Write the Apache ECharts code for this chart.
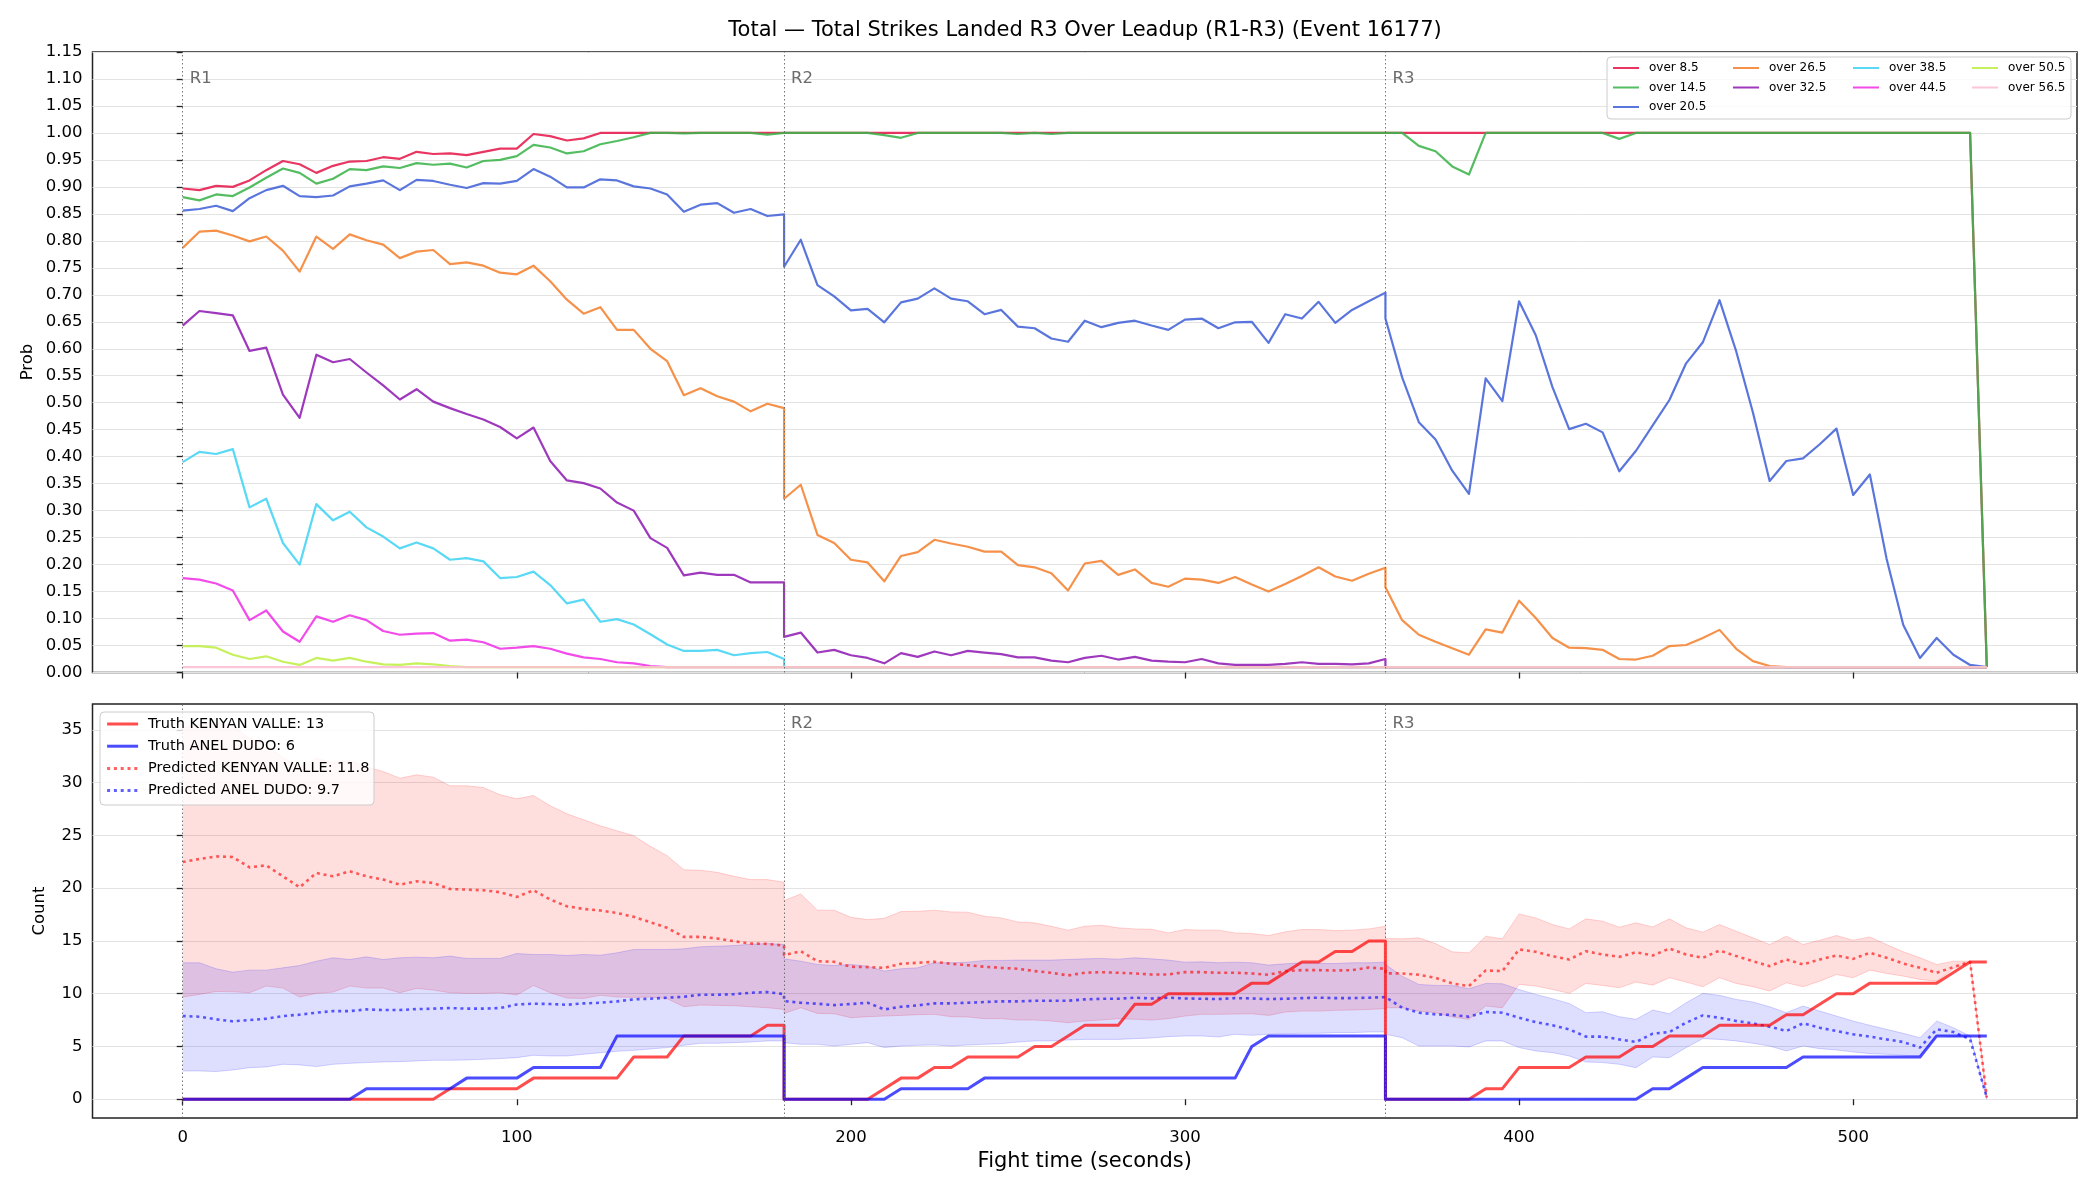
<!DOCTYPE html>
<html>
<head>
<meta charset="utf-8">
<title>Total Strikes Landed R3 Over Leadup</title>
<script src="https://cdn.jsdelivr.net/npm/echarts@6/dist/echarts.min.js"></script>
<style>
  html, body { margin: 0; padding: 0; background: #fff; }
  #chart { width: 2100px; height: 1200px; }
</style>
</head>
<body>
<div id="chart"></div>
<script>
// fight time in seconds, one sample every 5 s (round boundaries appear twice)
const timeR1 = [0,5,10,15,20,25,30,35,40,45,50,55,60,65,70,75,80,85,90,95,100,105,110,115,120,125,130,135,140,145,150,155,160,165,170,175,180];
const timeR2 = [180,185,190,195,200,205,210,215,220,225,230,235,240,245,250,255,260,265,270,275,280,285,290,295,300,305,310,315,320,325,330,335,340,345,350,355,360];
const timeR3 = [360,365,370,375,380,385,390,395,400,405,410,415,420,425,430,435,440,445,450,455,460,465,470,475,480,485,490,495,500,505,510,515,520,525,530,535,540];
const fightTime = timeR1.concat(timeR2, timeR3);

const roundStarts = [0, 180, 360];
const roundNames = ['R1', 'R2', 'R3'];
const xTicks = [0, 100, 200, 300, 400, 500];
const countTicks = [0, 5, 10, 15, 20, 25, 30, 35];

// a full round sitting on 1.0 or on the 0.01 floor
const ones37 = [1,1,1,1,1,1,1,1,1,1, 1,1,1,1,1,1,1,1,1,1, 1,1,1,1,1,1,1,1,1,1, 1,1,1,1,1,1,1];
const floor37 = [0.01,0.01,0.01,0.01,0.01,0.01,0.01,0.01,0.01,0.01, 0.01,0.01,0.01,0.01,0.01,0.01,0.01,0.01,0.01,0.01,
                 0.01,0.01,0.01,0.01,0.01,0.01,0.01,0.01,0.01,0.01, 0.01,0.01,0.01,0.01,0.01,0.01,0.01];

// ---- top panel: probability of going over each line ----
const over8_5 = [
  0.897,0.894,0.902,0.900,0.912,0.931,0.948,0.942,0.926,0.939, 0.947,0.948,0.955,0.952,0.965,0.961,0.962,0.959,0.965,0.971,
  0.971,0.998,0.994,0.986,0.990,1,1,1,1,1, 1,1,1,1,1,1,1,
  ...ones37,
  1,1,1,1,1,1,1,1,1,1, 1,1,1,1,1,1,1,1,1,1, 1,1,1,1,1,1,1,1,1,1, 1,1,1,1,1,1,0.01
];
const over14_5 = [
  0.881,0.875,0.886,0.883,0.899,0.917,0.934,0.926,0.906,0.915, 0.933,0.931,0.938,0.935,0.944,0.941,0.943,0.936,0.948,0.950,
  0.957,0.978,0.973,0.962,0.966,0.979,0.985,0.992,1,1, 0.999,1,1,1,1,0.997,1,
  1,1,1,1,1,1,0.996,0.991,1,1, 1,1,1,1,0.998,1,0.998,1,1,1, 1,1,1,1,1,1,1,1,1,1, 1,1,1,1,1,1,1,
  1,1,0.976,0.966,0.938,0.923,1,1,1,1, 1,1,1,1,0.989,1,1,1,1,1, 1,1,1,1,1,1,1,1,1,1, 1,1,1,1,1,1,0.01
];
const over20_5 = [
  0.856,0.859,0.865,0.855,0.879,0.894,0.902,0.883,0.881,0.884, 0.901,0.906,0.912,0.894,0.913,0.911,0.904,0.898,0.907,0.906,
  0.911,0.933,0.919,0.899,0.899,0.914,0.912,0.901,0.897,0.886, 0.854,0.867,0.870,0.852,0.859,0.846,0.849,
  0.752,0.802,0.718,0.697,0.671,0.674,0.649,0.686,0.693,0.712, 0.693,0.688,0.664,0.672,0.641,0.638,0.619,0.613,0.652,0.640,
  0.648,0.652,0.643,0.635,0.654,0.656,0.638,0.649,0.650,0.611, 0.664,0.656,0.687,0.648,0.672,0.688,0.704,
  0.656,0.547,0.464,0.432,0.374,0.331,0.545,0.503,0.688,0.625, 0.529,0.451,0.461,0.445,0.373,0.411,0.458,0.505,0.573,0.612,
  0.690,0.595,0.482,0.355,0.392,0.397,0.423,0.452,0.329,0.367, 0.211,0.088,0.027,0.064,0.033,0.014,0.01
];
const over26_5 = [
  0.787,0.817,0.819,0.810,0.799,0.808,0.782,0.743,0.808,0.785, 0.812,0.801,0.793,0.768,0.780,0.783,0.757,0.760,0.754,0.741,
  0.738,0.754,0.725,0.691,0.665,0.677,0.635,0.635,0.600,0.577, 0.514,0.527,0.512,0.502,0.484,0.498,0.490,
  0.322,0.348,0.255,0.240,0.209,0.204,0.169,0.216,0.223,0.246, 0.239,0.233,0.224,0.224,0.199,0.195,0.184,0.152,0.202,0.207,
  0.181,0.191,0.166,0.159,0.174,0.172,0.166,0.177,0.163,0.150, 0.164,0.179,0.195,0.178,0.170,0.183,0.194,
  0.158,0.097,0.070,0.057,0.045,0.033,0.080,0.074,0.133,0.101, 0.064,0.046,0.045,0.042,0.025,0.024,0.031,0.049,0.051,0.064,
  0.079,0.044,0.021,0.012,0.01,0.01,0.01,0.01,0.01,0.01, 0.01,0.01,0.01,0.01,0.01,0.01,0.01
];
const over32_5 = [
  0.643,0.670,0.666,0.662,0.596,0.602,0.515,0.472,0.589,0.575, 0.581,0.556,0.532,0.506,0.525,0.502,0.490,0.479,0.469,0.455,
  0.434,0.454,0.392,0.356,0.351,0.341,0.315,0.300,0.249,0.231, 0.180,0.185,0.181,0.181,0.167,0.167,0.167,
  0.066,0.074,0.037,0.042,0.032,0.027,0.017,0.036,0.029,0.039, 0.032,0.040,0.037,0.034,0.028,0.028,0.022,0.019,0.027,0.031,
  0.024,0.029,0.022,0.020,0.019,0.025,0.017,0.014,0.014,0.014, 0.016,0.019,0.016,0.016,0.015,0.017,0.025,
  ...floor37
];
const over38_5 = [
  0.390,0.409,0.405,0.414,0.306,0.322,0.240,0.200,0.312,0.282, 0.298,0.269,0.252,0.230,0.241,0.230,0.209,0.212,0.206,0.175,
  0.177,0.187,0.162,0.128,0.135,0.094,0.099,0.089,0.071,0.052, 0.040,0.040,0.042,0.032,0.036,0.038,0.025,
  ...floor37,
  ...floor37
];
const over44_5 = [
  0.175,0.172,0.165,0.152,0.097,0.115,0.076,0.057,0.104,0.094, 0.106,0.097,0.077,0.070,0.072,0.073,0.059,0.061,0.056,0.044,
  0.046,0.049,0.044,0.035,0.028,0.025,0.019,0.017,0.012,0.01, 0.01,0.01,0.01,0.01,0.01,0.01,0.01,
  ...floor37,
  ...floor37
];
const over50_5 = [
  0.049,0.049,0.046,0.033,0.025,0.030,0.020,0.014,0.027,0.022, 0.027,0.020,0.015,0.014,0.017,0.015,0.012,0.01,0.01,0.01,
  0.01,0.01,0.01,0.01,0.01,0.01,0.01,0.01,0.01,0.01, 0.01,0.01,0.01,0.01,0.01,0.01,0.01,
  ...floor37,
  ...floor37
];
const over56_5 = [...floor37, ...floor37, ...floor37];

const lineNames = ['over 8.5', 'over 14.5', 'over 20.5', 'over 26.5', 'over 32.5', 'over 38.5', 'over 44.5', 'over 50.5', 'over 56.5'];
const lineValues = [over8_5, over14_5, over20_5, over26_5, over32_5, over38_5, over44_5, over50_5, over56_5];
const lineColors = ['#e6194b', '#3cb44b', '#4363d8', '#f58231', '#911eb4', '#42d4f4', '#f032e6', '#bfef45', '#fabed4'];

// ---- bottom panel: counts ----
const truthKenyan = [
  0,0,0,0,0,0,0,0,0,0, 0,0,0,0,0,0,1,1,1,1, 1,2,2,2,2,2,2,4,4,4, 6,6,6,6,6,7,7,
  0,0,0,0,0,0,1,2,2,3, 3,4,4,4,4,5,5,6,7,7, 7,9,9,10,10,10,10,10,11,11, 12,13,13,14,14,15,15,
  0,0,0,0,0,0,1,1,3,3, 3,3,4,4,4,5,5,6,6,6, 7,7,7,7,8,8,9,10,10,11, 11,11,11,11,12,13,13
];
const truthDudo = [
  0,0,0,0,0,0,0,0,0,0, 0,1,1,1,1,1,1,2,2,2, 2,3,3,3,3,3,6,6,6,6, 6,6,6,6,6,6,6,
  0,0,0,0,0,0,0,1,1,1, 1,1,2,2,2,2,2,2,2,2, 2,2,2,2,2,2,2,2,5,6, 6,6,6,6,6,6,6,
  0,0,0,0,0,0,0,0,0,0, 0,0,0,0,0,0,1,1,2,3, 3,3,3,3,3,4,4,4,4,4, 4,4,4,6,6,6,6
];
const predKenyan = [
  22.48,22.76,23.01,22.95,21.97,22.16,21.12,20.08,21.44,21.12, 21.60,21.12,20.81,20.33,20.65,20.49,19.92,19.86,19.80,19.61,
  19.17,19.80,18.92,18.28,18.03,17.88,17.65,17.28,16.77,16.24, 15.38,15.38,15.23,14.97,14.75,14.72,14.56,
  13.65,14.03,13.08,13.02,12.55,12.52,12.45,12.83,12.93,13.02, 12.83,12.70,12.55,12.45,12.36,12.14,11.98,11.73,11.98,12.04,
  11.98,11.92,11.82,11.82,12.04,12.04,11.98,11.98,11.92,11.79, 12.14,12.23,12.23,12.20,12.23,12.48,12.36,
  11.92,11.92,11.79,11.51,10.97,10.72,12.20,12.14,14.19,13.97, 13.56,13.24,14.03,13.71,13.49,13.93,13.62,14.28,13.71,13.40,
  14.09,13.56,13.08,12.61,13.24,12.77,13.24,13.62,13.30,13.87, 13.40,12.86,12.45,11.98,12.52,13.02,0.16
];
const kenyanHigh = [
  35.20,35.50,35.67,35.40,34.20,33.60,32.40,31.40,32.30,31.90, 32.10,31.50,31.05,30.42,30.74,30.52,29.70,29.70,29.54,28.85,
  28.47,28.78,27.81,27.05,26.48,25.91,25.44,24.97,23.96,23.08, 21.75,21.69,21.50,21.12,20.81,20.81,20.56,
  18.82,19.45,17.91,17.91,17.24,17.02,17.15,17.78,17.81,17.91, 17.75,17.72,17.34,17.18,16.80,16.71,16.39,16.02,16.39,16.49,
  16.24,16.14,16.11,15.76,16.08,16.02,16.02,15.76,15.70,15.51, 15.86,16.08,16.08,15.98,16.02,16.14,16.39,
  15.23,15.20,15.29,14.75,13.97,13.87,15.45,15.20,17.56,17.18, 16.55,16.14,17.09,16.87,16.30,16.71,16.33,17.09,16.24,15.83,
  16.55,15.92,15.29,14.66,15.45,14.66,15.07,15.51,15.07,15.38, 14.66,13.97,13.40,12.77,13.08,13.08,0.32
];
const kenyanLow = [
  9.68,9.93,10.21,10.18,10.09,10.72,10.53,9.68,10.03,10.15, 10.72,10.53,10.53,10.09,10.50,10.34,10.09,10.03,10.03,10.09,
  9.87,10.78,10.09,9.58,9.55,9.84,9.68,9.65,9.68,9.52, 8.76,8.92,8.89,8.86,8.76,8.67,8.51,
  8.13,8.67,8.13,8.10,7.72,7.82,7.88,7.94,8.01,8.04, 7.82,7.79,7.63,7.63,7.50,7.50,7.41,7.25,7.41,7.50,
  7.63,7.57,7.50,7.63,7.88,8.04,8.04,8.07,8.10,7.94, 8.26,8.35,8.35,8.42,8.45,8.51,8.58,
  8.67,8.67,8.35,8.20,7.79,7.57,8.83,8.67,10.88,10.72, 10.40,10.03,10.97,10.78,10.56,11.10,10.81,11.51,11.10,10.66,
  11.51,10.97,10.66,10.25,11.03,10.66,11.19,11.82,11.51,12.23, 11.92,11.66,11.35,11.19,12.36,12.99,0
];
const predDudo = [
  7.88,7.82,7.57,7.38,7.50,7.63,7.88,8.01,8.20,8.35, 8.35,8.51,8.45,8.45,8.54,8.58,8.64,8.58,8.58,8.64,
  8.98,9.05,9.02,8.95,9.08,9.14,9.27,9.46,9.52,9.62, 9.71,9.90,9.90,9.96,10.09,10.15,9.96,
  9.30,9.14,9.05,8.92,9.02,9.14,8.51,8.76,8.89,9.08, 9.08,9.14,9.21,9.27,9.27,9.33,9.33,9.33,9.46,9.52,
  9.52,9.62,9.55,9.62,9.55,9.52,9.49,9.58,9.55,9.49, 9.52,9.58,9.62,9.58,9.58,9.62,9.68,
  9.68,8.67,8.20,8.04,7.98,7.82,8.26,8.20,7.72,7.31, 7.00,6.62,5.93,5.93,5.67,5.42,6.21,6.37,7.25,7.94,
  7.72,7.41,7.19,6.87,6.46,7.19,6.78,6.46,6.15,5.93, 5.67,5.42,4.89,6.62,6.37,5.67,0.16
];
const dudoHigh = [
  12.93,12.93,12.36,12.04,12.23,12.23,12.45,12.67,13.08,13.40, 13.24,13.49,13.24,13.40,13.46,13.40,13.56,13.34,13.34,13.34,
  13.81,13.71,13.71,13.62,13.71,13.65,13.87,14.19,14.19,14.19, 14.25,14.44,14.50,14.56,14.69,14.75,14.66,
  13.30,13.08,12.77,12.67,12.77,12.61,12.14,12.36,12.45,12.93, 12.93,12.99,13.15,13.15,13.18,13.18,13.18,13.24,13.30,13.34,
  13.27,13.40,13.30,13.18,12.99,13.02,12.93,12.99,12.93,12.71, 12.83,12.93,12.86,12.86,12.93,12.93,12.99,
  12.77,11.66,10.88,10.78,10.78,10.47,10.97,10.94,10.40,9.93, 9.52,9.08,8.20,8.29,7.82,7.57,8.45,8.10,9.14,10.03,
  9.84,9.46,9.21,8.76,8.20,8.83,8.35,7.88,7.41,7.00, 6.62,6.24,5.83,7.41,6.78,5.99,0.16
];
const dudoLow = [
  2.68,2.68,2.62,2.77,2.99,3.06,3.31,3.25,3.09,3.31, 3.40,3.47,3.53,3.56,3.63,3.69,3.69,3.72,3.78,3.85,
  3.94,4.16,4.10,4.10,4.26,4.41,4.54,4.63,4.76,4.89, 5.11,5.30,5.30,5.36,5.42,5.52,5.52,
  5.36,5.20,5.20,5.04,5.20,5.36,4.89,5.04,5.11,5.14, 5.04,5.14,5.20,5.26,5.42,5.52,5.52,5.61,5.67,5.67,
  5.67,5.74,5.80,5.93,5.99,5.99,5.90,6.15,6.05,6.15, 6.21,6.24,6.24,6.31,6.31,6.37,6.37,
  6.15,5.83,5.04,5.04,5.04,4.95,5.52,5.52,4.89,4.57, 4.41,4.10,3.53,3.47,3.31,2.99,4.00,3.94,4.89,5.74,
  5.67,5.52,5.30,5.04,4.57,5.04,4.79,4.67,4.48,4.32, 4.26,4.16,4.10,6.05,5.93,5.99,0
];

const countNames = ['Truth KENYAN VALLE: 13', 'Truth ANEL DUDO: 6', 'Predicted KENYAN VALLE: 11.8', 'Predicted ANEL DUDO: 9.7'];
const titleText = 'Total \u2014 Total Strikes Landed R3 Over Leadup (R1-R3) (Event 16177)';

// legend layout for the top panel (matplotlib fills it column by column)
const legendColumns = [
  ['over 8.5', 'over 14.5', 'over 20.5'],
  ['over 26.5', 'over 32.5'],
  ['over 38.5', 'over 44.5'],
  ['over 50.5', 'over 56.5']
];
const legendColumnLeft = [1612, 1732, 1852, 1971];

const fontFamily = 'DejaVu Sans';
const tickStyle = { color: '#222', width: 1.3 };
const gridLineStyle = { color: '#e3e3e3', width: 1 };

function pairs(values) {
  return values.map(function (v, i) { return [fightTime[i], v]; });
}

function roundLines() {
  return {
    silent: true,
    symbol: ['none', 'none'],
    label: { show: false },
    lineStyle: { color: '#666', width: 1, type: [1.5, 2.5], opacity: 0.9 },
    data: roundStarts.map(function (t) { return { xAxis: t }; })
  };
}

function roundLabels(yValue, fromIndex) {
  return {
    silent: true,
    symbol: 'circle',
    symbolSize: 0,
    label: { show: true, position: 'right', distance: 7, formatter: '{b}', color: '#6b6b6b', fontSize: 16.5 },
    data: roundStarts.slice(fromIndex).map(function (t, i) {
      return { name: roundNames[i + fromIndex], coord: [t, yValue] };
    })
  };
}

function band(low, high, fill, edge) {
  return {
    type: 'custom',
    xAxisIndex: 1,
    yAxisIndex: 1,
    silent: true,
    clip: true,
    z: 1,
    data: fightTime.map(function (t, i) { return [t, low[i], high[i]]; }),
    encode: { x: 0, y: [1, 2] },
    renderItem: function (params, api) {
      if (params.dataIndex !== 0) return null;
      const upper = fightTime.map(function (t, i) { return api.coord([t, high[i]]); });
      const lower = fightTime.map(function (t, i) { return api.coord([t, low[i]]); });
      return {
        type: 'group',
        children: [
          { type: 'polygon', shape: { points: upper.concat(lower.slice().reverse()) }, style: { fill: fill } },
          { type: 'polyline', shape: { points: upper }, style: { fill: 'none', stroke: edge, lineWidth: 1 } },
          { type: 'polyline', shape: { points: lower }, style: { fill: 'none', stroke: edge, lineWidth: 1 } }
        ]
      };
    }
  };
}

function timeAxis(gridIndex, withLabels) {
  return {
    type: 'value',
    gridIndex: gridIndex,
    min: -27,
    max: 567,
    axisLine: { show: false },
    axisTick: { show: true, length: 6, customValues: xTicks, lineStyle: tickStyle },
    axisLabel: { show: withLabels, customValues: xTicks, margin: 11, fontSize: 16.5, color: '#000' },
    splitLine: { show: false },
    name: withLabels ? 'Fight time (seconds)' : '',
    nameLocation: 'middle',
    nameGap: 33,
    nameTextStyle: { fontSize: 21, color: '#000' }
  };
}

const topSeries = lineNames.map(function (name, i) {
  return {
    name: name,
    type: 'line',
    xAxisIndex: 0,
    yAxisIndex: 0,
    data: pairs(lineValues[i]),
    symbol: 'none',
    color: lineColors[i],
    lineStyle: { width: 2.2, opacity: 0.88, join: 'round' }
  };
});
topSeries[0].markLine = roundLines();
topSeries[0].markPoint = roundLabels(1.10, 0);

const truthRed = {
  name: countNames[0], type: 'line', xAxisIndex: 1, yAxisIndex: 1,
  data: pairs(truthKenyan), symbol: 'none', color: 'rgba(255,0,0,0.7)',
  lineStyle: { width: 3, join: 'round' }, z: 4,
  markLine: roundLines(),
  markPoint: roundLabels(35.6, 1)
};
const truthBlue = {
  name: countNames[1], type: 'line', xAxisIndex: 1, yAxisIndex: 1,
  data: pairs(truthDudo), symbol: 'none', color: 'rgba(0,0,255,0.7)',
  lineStyle: { width: 3, join: 'round' }, z: 4
};
const predRed = {
  name: countNames[2], type: 'line', xAxisIndex: 1, yAxisIndex: 1,
  data: pairs(predKenyan), symbol: 'none', color: 'rgba(255,0,0,0.62)',
  lineStyle: { width: 2.6, type: [3, 3.8] }, z: 3
};
const predBlue = {
  name: countNames[3], type: 'line', xAxisIndex: 1, yAxisIndex: 1,
  data: pairs(predDudo), symbol: 'none', color: 'rgba(0,0,255,0.62)',
  lineStyle: { width: 2.6, type: [3, 3.8] }, z: 3
};

const legends = legendColumns.map(function (col, i) {
  return {
    data: col,
    orient: 'vertical',
    left: legendColumnLeft[i],
    top: 61,
    padding: 0,
    itemWidth: 26,
    itemHeight: 12,
    itemGap: 5.5,
    selectedMode: false,
    z: 20,
    itemStyle: { opacity: 0 },
    textStyle: { fontSize: 12, lineHeight: 14, color: '#000', padding: [0, 0, 0, 5] }
  };
});
legends.push({
  data: countNames,
  orient: 'vertical',
  left: 105.6,
  top: 716,
  padding: 0,
  itemWidth: 31,
  itemHeight: 14,
  itemGap: 6.2,
  selectedMode: false,
  z: 20,
  itemStyle: { opacity: 0 },
  lineStyle: { width: 3 },
  textStyle: { fontSize: 14.5, lineHeight: 16, color: '#000', padding: [0, 0, 0, 5] }
});

const option = {
  animation: false,
  backgroundColor: '#ffffff',
  textStyle: { fontFamily: fontFamily },
  title: {
    text: titleText,
    left: 1085,
    top: 20,
    padding: 0,
    textAlign: 'center',
    textStyle: { fontSize: 21, fontWeight: 'normal', color: '#000', fontFamily: fontFamily }
  },
  grid: [
    { left: 92.5, right: 23, top: 52, height: 620.5, show: true, borderColor: '#222', borderWidth: 1.5 },
    { left: 92.5, right: 23, top: 704, height: 414, show: true, borderColor: '#222', borderWidth: 1.5 }
  ],
  xAxis: [timeAxis(0, false), timeAxis(1, true)],
  yAxis: [
    {
      type: 'value', gridIndex: 0, min: 0, max: 1.15, interval: 0.05,
      axisLine: { show: false },
      axisTick: { show: true, length: 6, lineStyle: tickStyle },
      axisLabel: { margin: 10, fontSize: 16.5, color: '#000', formatter: function (v) { return v.toFixed(2); } },
      splitLine: { lineStyle: gridLineStyle }
    },
    {
      type: 'value', gridIndex: 1, min: -1.78, max: 37.45, splitNumber: 8,
      axisLine: { show: false },
      axisTick: { show: true, length: 6, customValues: countTicks, lineStyle: tickStyle },
      axisLabel: { margin: 10, fontSize: 16.5, color: '#000', customValues: countTicks },
      splitLine: { lineStyle: gridLineStyle }
    }
  ],
  legend: legends,
  graphic: [
    { type: 'rect', z: 10, shape: { x: 1607, y: 57, width: 464, height: 62, r: 4 },
      style: { fill: 'rgba(255,255,255,0.8)', stroke: '#cccccc', lineWidth: 1 } },
    { type: 'rect', z: 10, shape: { x: 100, y: 712, width: 274, height: 93, r: 4 },
      style: { fill: 'rgba(255,255,255,0.8)', stroke: '#cccccc', lineWidth: 1 } },
    { type: 'text', x: 28, y: 362, rotation: Math.PI / 2,
      style: { text: 'Prob', fontSize: 16.5, fontFamily: fontFamily, fill: '#000', align: 'center', verticalAlign: 'middle' } },
    { type: 'text', x: 40, y: 911, rotation: Math.PI / 2,
      style: { text: 'Count', fontSize: 16.5, fontFamily: fontFamily, fill: '#000', align: 'center', verticalAlign: 'middle' } }
  ],
  series: topSeries.concat([
    band(kenyanLow, kenyanHigh, 'rgba(255,0,0,0.13)', 'rgba(255,0,0,0.16)'),
    band(dudoLow, dudoHigh, 'rgba(0,0,255,0.13)', 'rgba(0,0,255,0.16)'),
    predRed,
    predBlue,
    truthRed,
    truthBlue
  ])
};

const chart = echarts.init(document.getElementById('chart'), null, { renderer: 'canvas' });
chart.setOption(option);
</script>
</body>
</html>
